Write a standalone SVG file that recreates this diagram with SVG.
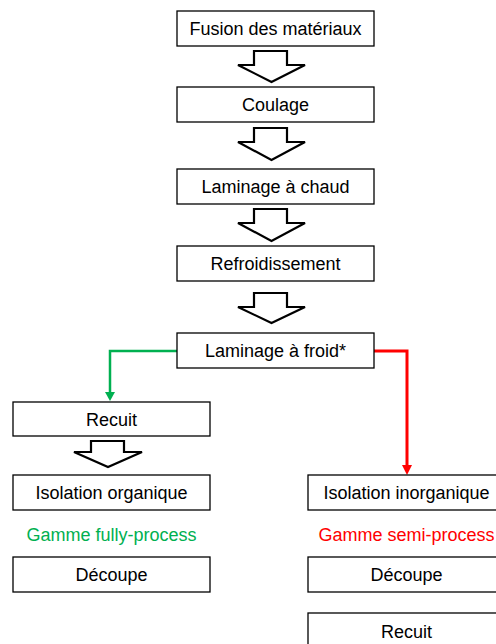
<svg xmlns="http://www.w3.org/2000/svg" width="496" height="644" viewBox="0 0 496 644">
<defs>
<style>
.box{fill:#fff;stroke:#000;stroke-width:1.3}
.t{font-family:"Liberation Sans",Arial,sans-serif;font-size:18px;fill:#000;text-anchor:middle}
.blk{fill:#fff;stroke:#000;stroke-width:2.2;stroke-linejoin:miter}
</style>
</defs>
<rect width="496" height="644" fill="#fff"/>
<g id="connectors">
<path class="blk" d="M254,51 H287 V65 H305 L271.5,82 L238,65 H254 Z"/>
<path class="blk" d="M254,128 H287 V142 H305 L271.5,160 L238,142 H254 Z"/>
<path class="blk" d="M254,209 H287 V223 H305 L271.5,241 L238,223 H254 Z"/>
<path class="blk" d="M254,293 H287 V307 H305 L271.5,323 L238,307 H254 Z"/>
<path class="blk" d="M91,441 H124 V452 H142 L108,467 L74,452 H91 Z"/>
<path d="M177,351 H110 V393" fill="none" stroke="#00b050" stroke-width="2.5"/>
<path d="M105,392 L115,392 L110,401 Z" fill="#00b050"/>
<path d="M374,351 H407 V466" fill="none" stroke="#ff0000" stroke-width="3"/>
<path d="M402,465 L412,465 L407,475 Z" fill="#ff0000"/>
</g>
<g id="n1"><rect class="box" x="177" y="11" width="197" height="35"/><text class="t" x="275.5" y="35">Fusion des matériaux</text></g>
<g id="n2"><rect class="box" x="177" y="87" width="197" height="35"/><text class="t" x="275.5" y="111">Coulage</text></g>
<g id="n3"><rect class="box" x="177" y="169" width="197" height="35"/><text class="t" x="275.5" y="193">Laminage à chaud</text></g>
<g id="n4"><rect class="box" x="177" y="246" width="197" height="35"/><text class="t" x="275.5" y="270">Refroidissement</text></g>
<g id="n5"><rect class="box" x="177" y="333" width="197" height="35"/><text class="t" x="275.5" y="357">Laminage à froid*</text></g>
<g id="n6"><rect class="box" x="13" y="402" width="197" height="34"/><text class="t" x="111.5" y="425.5">Recuit</text></g>
<g id="n7"><rect class="box" x="13" y="475" width="197" height="35"/><text class="t" x="111.5" y="499">Isolation organique</text></g>
<g id="l1"><text class="t" x="111.5" y="541" style="fill:#00b050">Gamme fully-process</text></g>
<g id="n8"><rect class="box" x="13" y="557" width="197" height="35"/><text class="t" x="111.5" y="581">Découpe</text></g>
<g id="n9"><rect class="box" x="308" y="475" width="197" height="35"/><text class="t" x="406.5" y="499">Isolation inorganique</text></g>
<g id="l2"><text class="t" x="406.5" y="541" style="fill:#ff0000">Gamme semi-process</text></g>
<g id="n10"><rect class="box" x="308" y="557" width="197" height="35"/><text class="t" x="406.5" y="581">Découpe</text></g>
<g id="n11"><rect class="box" x="308" y="613" width="197" height="40"/><text class="t" x="406.5" y="637.5">Recuit</text></g>
</svg>
